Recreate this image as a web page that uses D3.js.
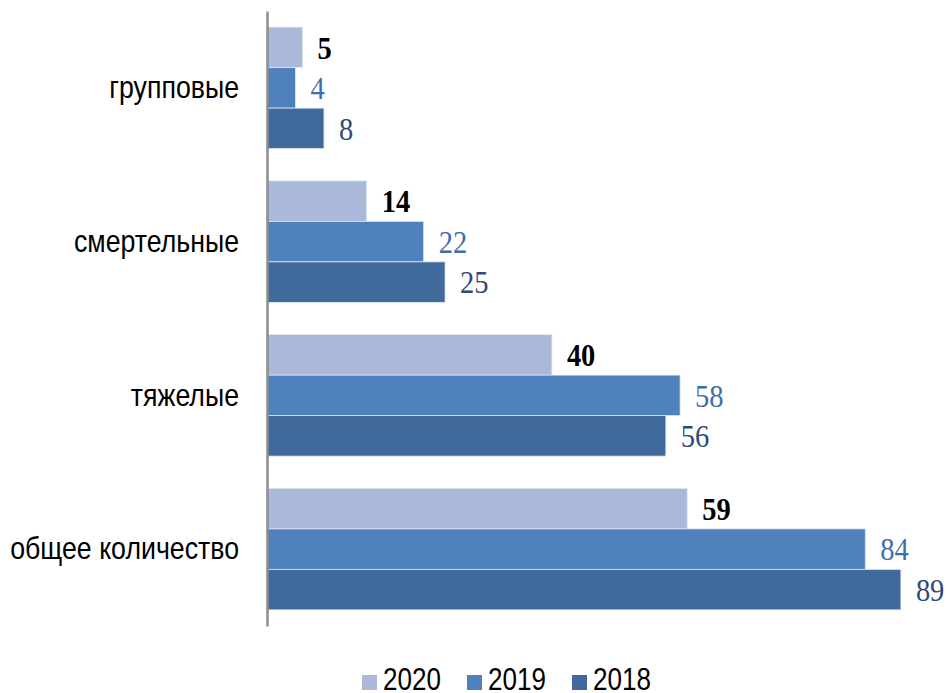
<!DOCTYPE html>
<html><head><meta charset="utf-8">
<script src="https://cdn.jsdelivr.net/npm/d3@7"></script>
<style>
html,body{margin:0;padding:0;background:#fff;}
svg{display:block;}
</style></head>
<body>
<svg id="chart" width="952" height="693"></svg>
<script>
const categories = ["групповые", "смертельные", "тяжелые", "общее количество"];
const years = ["2020", "2019", "2018"];
const values2020 = [5, 14, 40, 59];
const values2019 = [4, 22, 58, 84];
const values2018 = [8, 25, 56, 89];
const seriesValues = [values2020, values2019, values2018];
const barColors = ["#AAB9D9", "#4F81BD", "#416A9C"];
const labelColors = ["#000000", "#3F6DAA", "#2D4B78"];

const svg = d3.select("#chart");
const plotLeft = 267, plotTop = 11, plotBottom = 626;
const x = d3.scaleLinear().domain([0, 90]).range([plotLeft, plotLeft + 641]);
const y = d3.scaleBand().domain(categories).range([plotTop, plotBottom]).paddingInner(0.21).paddingOuter(0.105);
const yi = d3.scaleBand().domain(years).range([0, y.bandwidth()]);

const sans = "'Liberation Sans', Arial, sans-serif";
const serif = "'Liberation Serif','Times New Roman',serif";

// horizontally condense a text around its anchor x
function squeeze(sel, s) {
  sel.each(function() {
    const t = d3.select(this);
    const ax = +t.attr("x") || 0;
    t.attr("transform", `translate(${ax},0) scale(${s},1) translate(${-ax},0)`);
  });
}

const groups = svg.selectAll("g.cat").data(categories).join("g")
  .attr("class", "cat")
  .attr("transform", d => `translate(0,${y(d)})`);

years.forEach((yr, si) => {
  groups.append("rect")
    .attr("x", x(0))
    .attr("y", yi(yr))
    .attr("width", (d, i) => x(seriesValues[si][i]) - x(0))
    .attr("height", yi.bandwidth())
    .attr("fill", barColors[si])
    .attr("stroke", "#dfe6f1")
    .attr("stroke-width", 0.8);
  const lbl = groups.append("text")
    .attr("x", (d, i) => x(seriesValues[si][i]) + 15)
    .attr("y", yi(yr) + yi.bandwidth() / 2)
    .attr("dy", "0.35em")
    .attr("font-family", serif)
    .attr("font-size", 32)
    .attr("font-weight", si === 0 ? "bold" : "normal")
    .attr("fill", labelColors[si])
    .text((d, i) => seriesValues[si][i]);
  squeeze(lbl, 0.89);
});

// category axis
const yAxis = d3.axisLeft(y).tickSize(0).tickPadding(28);
const ag = svg.append("g").attr("transform", `translate(${plotLeft},0)`).call(yAxis);
ag.select(".domain").attr("stroke", "#8c8c8c").attr("stroke-width", 2.5);
const tickText = ag.selectAll("text")
  .attr("font-family", sans)
  .attr("font-size", 32)
  .attr("fill", "#000");
squeeze(tickText, 0.835);

// legend
const legendX = [362, 467, 572];
const lg = svg.append("g");
years.forEach((yr, i) => {
  lg.append("rect").attr("x", legendX[i]).attr("y", 675).attr("width", 15).attr("height", 15).attr("fill", barColors[i]);
  const lt = lg.append("text").attr("x", legendX[i] + 21).attr("y", 690)
    .attr("font-family", sans).attr("font-size", 31).attr("fill", "#000").text(yr);
  squeeze(lt, 0.84);
});
</script>
</body></html>
